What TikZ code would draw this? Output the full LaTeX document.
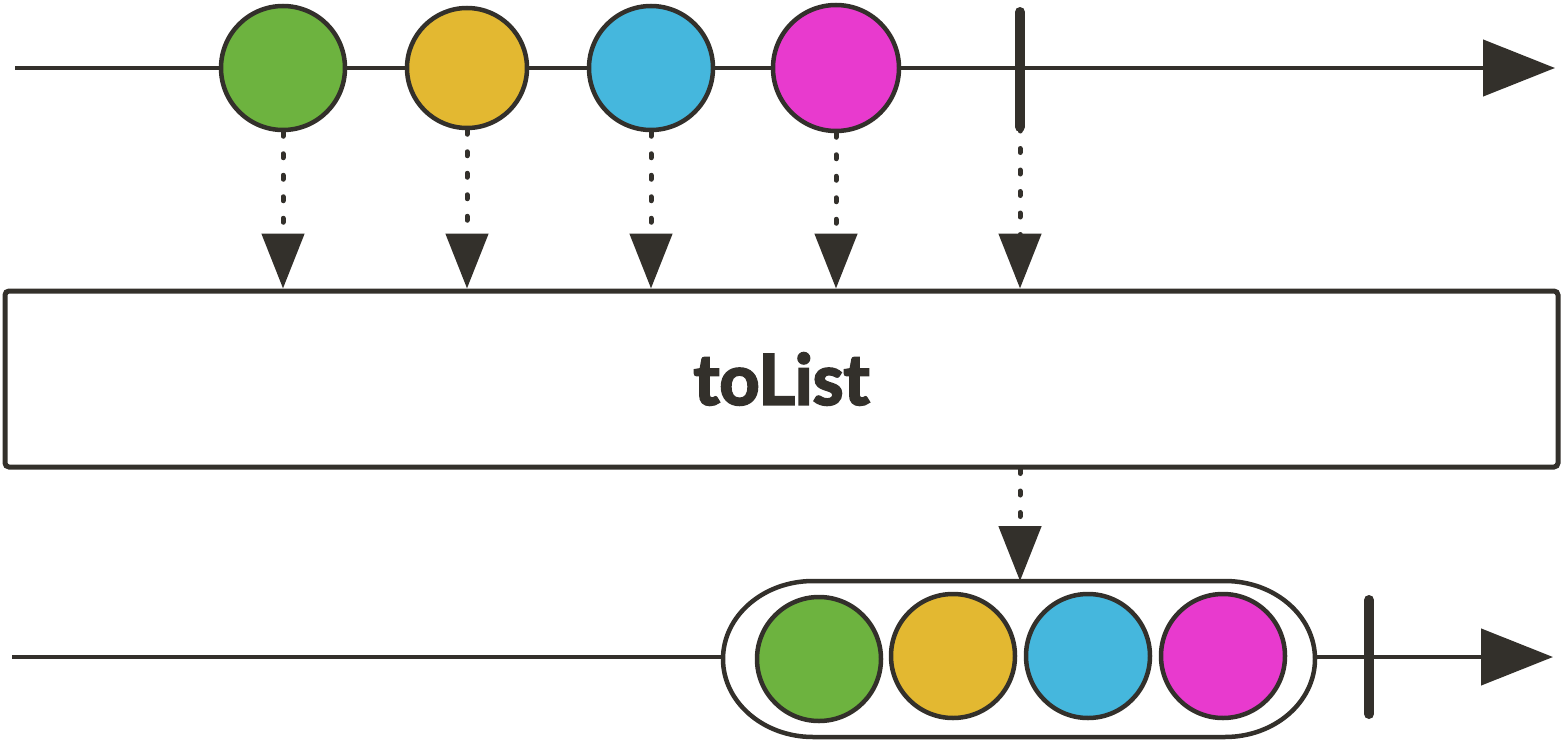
\documentclass[tikz,border=0pt]{standalone}
\usepackage{fontspec}
\usetikzlibrary{arrows.meta}
\newfontfamily\opfont{Lato}[BoldFeatures={FakeBold=3}]
\definecolor{ink}{HTML}{33302B}
\definecolor{cgreen}{HTML}{6DB33F}
\definecolor{cyellow}{HTML}{E3B831}
\definecolor{ccyan}{HTML}{45B7DD}
\definecolor{cmagenta}{HTML}{E83ACE}
\tikzset{
  marble/.style={circle, draw=ink, line width=4.5pt, minimum size=124pt, inner sep=0pt},
  timeline/.style={draw=ink, line width=4.5pt, -{Triangle[length=72pt,width=56pt]}},
  emitline/.style={draw=ink, line width=5pt, line cap=round, dash pattern=on 4pt off 17.5pt, -{Triangle[length=55pt,width=42pt]}},
  endbar/.style={draw=ink, line width=10pt, line cap=round},
  opbox/.style={draw=ink, line width=5pt, rounded corners=4pt, minimum width=1553pt, minimum height=176pt, inner sep=0pt, font=\opfont\bfseries\fontsize{70}{70}\selectfont, text=ink},
  pill/.style={draw=ink, line width=4.5pt, fill=white}
}
\begin{document}
\begin{tikzpicture}[x=1pt,y=-1pt]
\useasboundingbox (0,0) rectangle (1567,744);
% top timeline
\coordinate (tstart) at (15,68);
\coordinate (tend) at (1555,68);
\draw[timeline] (tstart) -- (tend);
\node[marble, fill=cgreen] (m1) at (283,68) {};
\node[marble, fill=cyellow, minimum size=120pt] (m2) at (467,68) {};
\node[marble, fill=ccyan] (m3) at (651,68) {};
\node[marble, fill=cmagenta, minimum size=126pt] (m4) at (836,68) {};
\coordinate (c1) at (1020,12);
\coordinate (c2) at (1020,127);
\draw[endbar] (c1) -- (c2);
% operator box
\node[opbox] (op) at (781.5,379) {toList};
% emission arrows
\draw[emitline] (m1.south) -- (m1.south |- op.north);
\draw[emitline] (m2.south) -- (m2.south |- op.north);
\draw[emitline] (m3.south) -- (m3.south |- op.north);
\draw[emitline] (m4.south) -- (m4.south |- op.north);
\draw[emitline] (c2) -- (c2 |- op.north);
% bottom timeline
\coordinate (bstart) at (12,657);
\coordinate (bend) at (1553,657);
\coordinate (pl) at (724,657);
\coordinate (pr) at (1315,657);
\coordinate (ptop) at (1020,581);
\draw[draw=ink, line width=4.5pt] (bstart) -- (pl);
\draw[timeline] (pr) -- (bend);
\draw[pill] (813,581) -- (1225,581) arc[start angle=-90, end angle=90, x radius=90, y radius=78] -- (813,737) arc[start angle=90, end angle=270, x radius=90, y radius=78] -- cycle;
\draw[emitline] (op.south -| ptop) -- (ptop);
\node[marble, fill=cgreen] (r1) at (819,659) {};
\node[marble, fill=cyellow] (r2) at (953,656) {};
\node[marble, fill=ccyan] (r3) at (1088,656) {};
\node[marble, fill=cmagenta] (r4) at (1223,656) {};
\coordinate (e1) at (1369,600);
\coordinate (e2) at (1369,714);
\draw[endbar] (e1) -- (e2);
\end{tikzpicture}
\end{document}
